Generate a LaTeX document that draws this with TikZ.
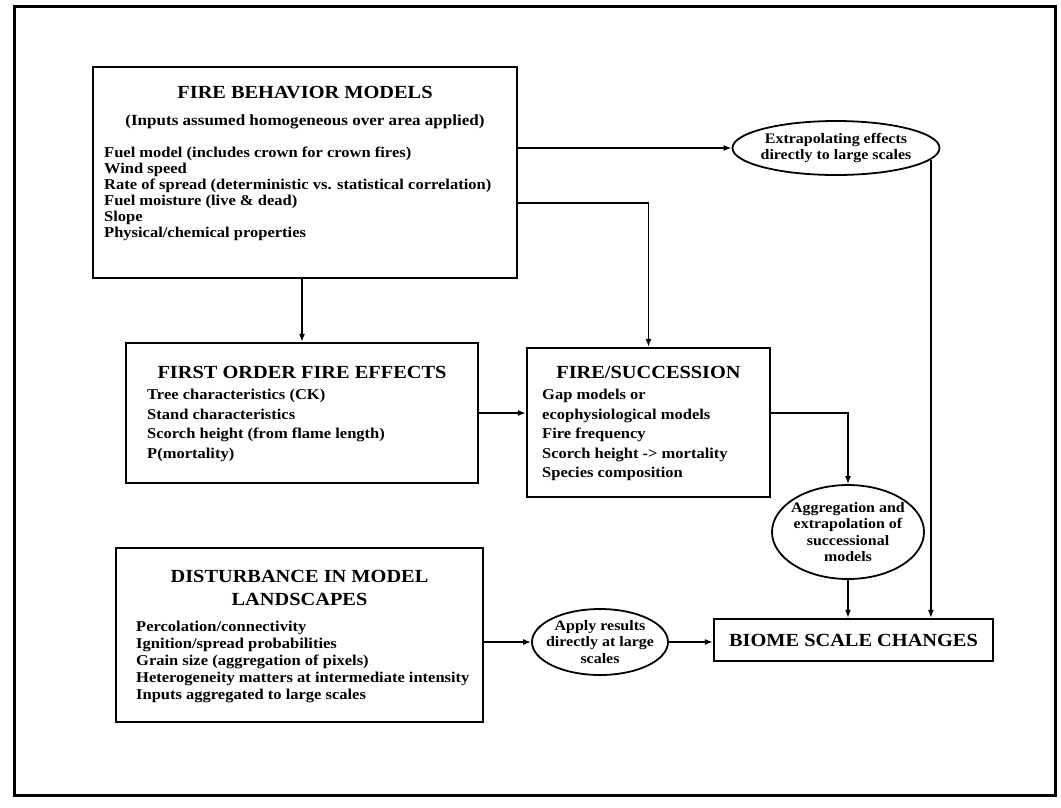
\documentclass[tikz,border=0pt]{standalone}
\usepackage{fontspec}
\setmainfont{Liberation Serif}[FakeStretch=1.1]
\usetikzlibrary{shapes.geometric,arrows.meta,calc}
\begin{document}
\begin{tikzpicture}[x=1pt,y=-1pt,
  box/.style={draw, line width=2.2pt, inner sep=0pt},
  ttl/.style={font=\fontsize{18.5}{23}\selectfont\bfseries, inner sep=0pt, align=center},
  sub/.style={font=\fontsize{15.5}{17}\selectfont\bfseries, inner sep=0pt},
  lst/.style={font=\fontsize{15}{16}\selectfont\bfseries, inner sep=0pt, align=left, anchor=north west},
  lstwide/.style={lst, font=\fontsize{15}{19.5}\selectfont\bfseries},
  oval/.style={draw, ellipse, line width=1.8pt, inner sep=0pt},
  otxt/.style={font=\fontsize{14.5}{16.5}\selectfont\bfseries, inner sep=0pt, align=center},
  conn/.style={line width=1.5pt, -{Latex[length=8pt,width=6pt]}}
]
\useasboundingbox (0,0) rectangle (1061,807);
% outer frame
\draw[line width=3pt] (14,6) rectangle (1055,795);

% fire behavior models
\node[box, minimum width=424pt, minimum height=211pt] (fbm) at (305,172.5) {};
\node[ttl] (fbmT) at (305,93) {FIRE BEHAVIOR MODELS};
\node[sub] (fbmS) at (305,122) {(Inputs assumed homogeneous over area applied)};
\node[lst] (fbmL) at (104,147) {Fuel model (includes crown for crown fires)\\
Wind speed\\
Rate of spread (deterministic vs. statistical correlation)\\
Fuel moisture (live \& dead)\\
Slope\\
Physical/chemical properties};

% first order fire effects
\node[box, minimum width=352pt, minimum height=140pt] (fo) at (302,413) {};
\node[ttl] (foT) at (302,372) {FIRST ORDER FIRE EFFECTS};
\node[lstwide] (foL) at (147,389) {Tree characteristics (CK)\\
Stand characteristics\\
Scorch height (from flame length)\\
P(mortality)};

% fire / succession
\node[box, minimum width=243pt, minimum height=149pt] (fs) at (648.5,422.5) {};
\node[ttl] (fsT) at (648.5,372) {FIRE/SUCCESSION};
\node[lstwide] (fsL) at (542,389) {Gap models or\\
ecophysiological models\\
Fire frequency\\
Scorch height -{}> mortality\\
Species composition};

% disturbance in model landscapes
\node[box, minimum width=367pt, minimum height=174pt] (dist) at (299.5,635) {};
\node[ttl] (distT) at (299.5,588) {DISTURBANCE IN MODEL\\LANDSCAPES};
\node[lst, font=\fontsize{15}{17}\selectfont\bfseries] (distL) at (136,621) {Percolation/connectivity\\
Ignition/spread probabilities\\
Grain size (aggregation of pixels)\\
Heterogeneity matters at intermediate intensity\\
Inputs aggregated to large scales};

% biome scale changes
\node[box, minimum width=279pt, minimum height=42pt] (biome) at (853.5,640) {};
\node[ttl] (biomeT) at (853.5,640) {BIOME SCALE CHANGES};

% ellipses
\node[oval, minimum width=207pt, minimum height=54pt] (ext) at (836,148) {};
\node[otxt] (extT) at (836,148) {Extrapolating effects\\directly to large scales};
\node[oval, minimum width=152pt, minimum height=94pt] (agg) at (848,532) {};
\node[otxt] (aggT) at (848,532) {Aggregation and\\extrapolation of\\successional\\models};
\node[oval, minimum width=136pt, minimum height=66pt] (apply) at (600,642) {};
\node[otxt] (applyT) at (600,642) {Apply results\\directly at large\\scales};

% connectors
\draw[conn] ([yshift=24.5pt]fbm.east) -- (ext.west);
\draw[conn] ([yshift=-30.5pt]fbm.east) -| (fs.north);
\draw[conn] (fo.north |- fbm.south) -- (fo.north);
\draw[conn] (fo.east) -- (fo.east -| fs.west);
\draw[conn] ([yshift=9.5pt]fs.east) -| (agg.north);
\draw[conn] (agg.south) -- (agg.south |- biome.north);
\draw[conn] (ext.-7.4) -- (ext.-7.4 |- biome.north);
\draw[conn] (apply.west -| dist.east) -- (apply.west);
\draw[conn] (apply.east) -- (apply.east -| biome.west);
\end{tikzpicture}
\end{document}
